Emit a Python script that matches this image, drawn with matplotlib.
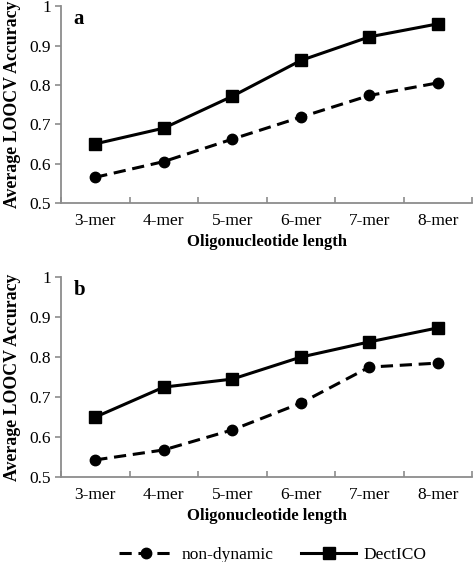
import matplotlib
matplotlib.use('Agg')
import matplotlib.pyplot as plt
import numpy as np

plt.rcParams['font.family'] = ['Liberation Serif', 'DejaVu Serif']

kmers = ['3-mer', '4-mer', '5-mer', '6-mer', '7-mer', '8-mer']
# panel a
dect_a = [0.650, 0.690, 0.771, 0.862, 0.922, 0.955]
nondyn_a = [0.565, 0.605, 0.662, 0.718, 0.773, 0.805]
# panel b
dect_b = [0.650, 0.725, 0.745, 0.800, 0.838, 0.873]
nondyn_b = [0.543, 0.568, 0.618, 0.685, 0.775, 0.785]

fig = plt.figure(figsize=(4.73, 5.62), dpi=100)
ax_a = fig.add_axes([0.129, 0.639, 0.869, 0.350])
ax_b = fig.add_axes([0.129, 0.151, 0.869, 0.356])

spine_col = '#8c8c8c'
x = np.arange(len(kmers))

def draw(ax, dect, nondyn, letter):
    ax.plot(x, nondyn, color='black', lw=2.2, ls=(0, (4, 2.2)),
            marker='o', ms=7.5, label='non-dynamic')
    ax.plot(x, dect, color='black', lw=2.2, ls='-',
            marker='s', ms=8.5, label='DectICO')
    ax.set_xlim(-0.5, 5.5)
    ax.set_ylim(0.5, 1.0)
    ax.set_yticks([0.5, 0.6, 0.7, 0.8, 0.9, 1.0])
    ax.set_yticklabels(['0.5', '0.6', '0.7', '0.8', '0.9', '1'])
    ax.set_xticks(x)
    ax.set_xticklabels(kmers)
    ax.set_xticks(np.arange(-0.5, 6, 1), minor=True)
    ax.tick_params(axis='x', which='major', length=0, labelsize=12.5, pad=7)
    ax.tick_params(axis='x', which='minor', direction='in', length=4,
                   color=spine_col, width=1.2)
    ax.tick_params(axis='y', direction='out', length=4, color=spine_col,
                   width=1.2, labelsize=12.5, pad=3)
    for s in ['top', 'right']:
        ax.spines[s].set_visible(False)
    for s in ['left', 'bottom']:
        ax.spines[s].set_color(spine_col)
        ax.spines[s].set_linewidth(1.3)
    ax.set_xlabel('Oligonucleotide length', fontsize=12, fontweight='bold', labelpad=4)
    ax.set_ylabel('Average LOOCV Accuracy', fontsize=12.8, fontweight='bold', labelpad=6)
    ax.text(0.03, 0.985, letter, transform=ax.transAxes, fontsize=15,
            fontweight='bold', va='top', ha='left')

draw(ax_a, dect_a, nondyn_a, 'a')
draw(ax_b, dect_b, nondyn_b, 'b')

handles, labels = ax_b.get_legend_handles_labels()
fig.legend(handles, labels, loc='center', bbox_to_anchor=(0.576, 0.012), ncol=2,
           frameon=False, fontsize=12.5, handlelength=3.2, columnspacing=1.6,
           handletextpad=0.4)

fig.savefig('out.png', dpi=100)
